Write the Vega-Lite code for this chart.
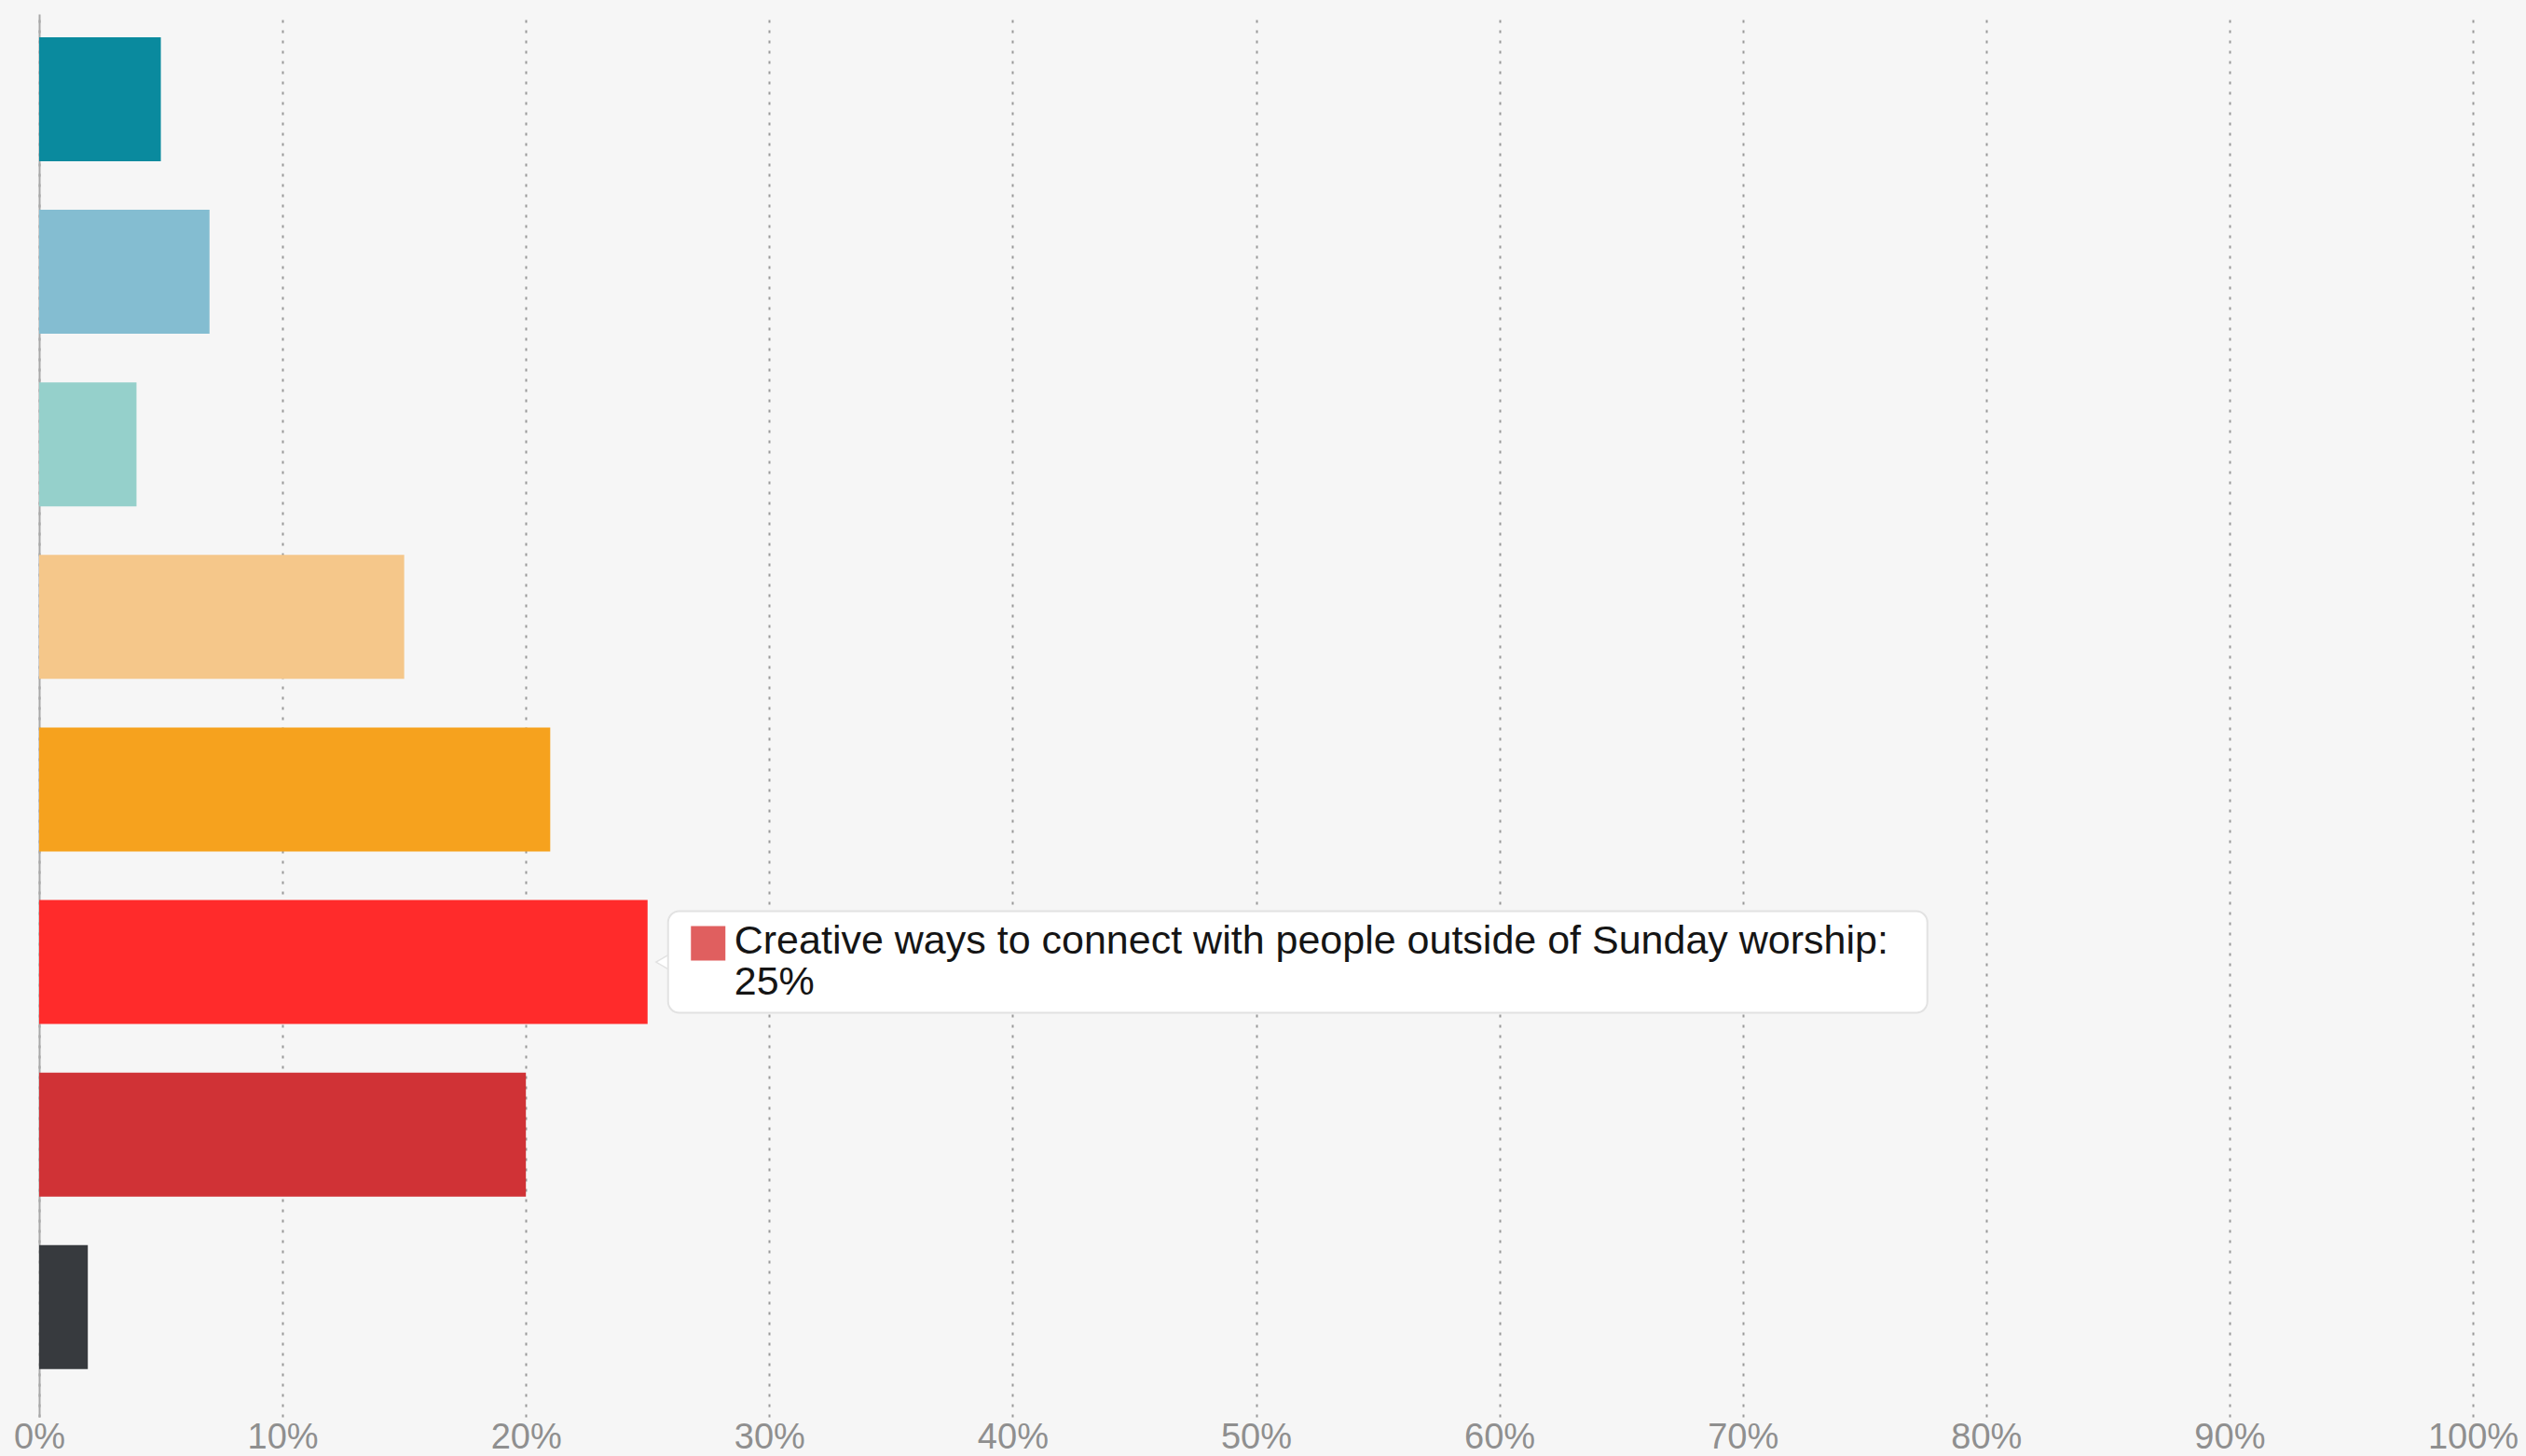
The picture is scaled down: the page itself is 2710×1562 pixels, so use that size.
{
  "$schema": "https://vega.github.io/schema/vega-lite/v6.json",
  "autosize": "none",
  "width": 2611,
  "height": 1505,
  "padding": {"left": 42, "top": 15, "right": 57, "bottom": 42},
  "background": "#f6f6f6",
  "config": {
    "view": {"stroke": null},
    "font": "Liberation Sans"
  },
  "datasets": {
    "bars": [
      {"option": "Option 1", "value": 5},
      {"option": "Option 2", "value": 7},
      {"option": "Option 3", "value": 4},
      {"option": "Option 4", "value": 15},
      {"option": "Option 5", "value": 21},
      {"option": "Creative ways to connect with people outside of Sunday worship", "value": 25},
      {"option": "Option 7", "value": 20},
      {"option": "Option 8", "value": 2}
    ],
    "tip": [
      {"option": "Creative ways to connect with people outside of Sunday worship", "value": 25, "tip": "Creative ways to connect with people outside of Sunday worship:\n25%"}
    ]
  },
  "encoding": {
    "y": {
      "field": "option",
      "type": "nominal",
      "sort": null,
      "scale": {
        "domain": ["Option 1", "Option 2", "Option 3", "Option 4", "Option 5", "Creative ways to connect with people outside of Sunday worship", "Option 7", "Option 8"],
        "paddingInner": 0.2815,
        "paddingOuter": 0.206,
        "align": 0.328
      },
      "axis": {
        "title": null,
        "labels": false,
        "ticks": false,
        "domain": true,
        "domainColor": "#a8a8a8",
        "domainWidth": 2,
        "grid": false
      }
    }
  },
  "layer": [
    {
      "data": {"name": "bars"},
      "mark": {"type": "bar"},
      "encoding": {
        "x": {
          "field": "value",
          "type": "quantitative",
          "scale": {"domain": [0, 100], "nice": false},
          "axis": {
            "title": null,
            "values": [0, 10, 20, 30, 40, 50, 60, 70, 80, 90, 100],
            "labelExpr": "datum.value + '%'",
            "labelFontSize": 38,
            "labelColor": "#8f8f8f",
            "labelFont": "Liberation Sans",
            "labelPadding": 3,
            "labelFlush": false,
            "domain": false,
            "ticks": false,
            "grid": true,
            "gridColor": "#999999",
            "gridDash": [3, 8],
            "gridWidth": 2
          }
        },
        "color": {
          "field": "option",
          "type": "nominal",
          "legend": null,
          "scale": {
            "domain": ["Option 1", "Option 2", "Option 3", "Option 4", "Option 5", "Creative ways to connect with people outside of Sunday worship", "Option 7", "Option 8"],
            "range": ["#0a8a9e", "#84bdd1", "#95d0cb", "#f5c78a", "#f6a21e", "#ff2b2b", "#d03236", "#373a3e"]
          }
        }
      }
    },
    {
      "data": {"name": "tip"},
      "mark": {"type": "point", "shape": "triangle-left", "filled": true, "fill": "#ffffff", "stroke": "#e2e2e2", "strokeWidth": 1.5, "size": 260, "xOffset": 16, "opacity": 1},
      "encoding": {
        "x": {"field": "value", "type": "quantitative"}
      }
    },
    {
      "data": {"name": "tip"},
      "mark": {"type": "bar", "fill": "#ffffff", "stroke": "#e2e2e2", "strokeWidth": 2, "cornerRadius": 12, "height": {"band": 0.82}, "xOffset": 22, "x2Offset": 1373},
      "encoding": {
        "x": {"field": "value", "type": "quantitative"},
        "x2": {"field": "value"}
      }
    },
    {
      "data": {"name": "tip"},
      "mark": {"type": "point", "shape": "square", "filled": true, "fill": "#e05f5f", "size": 1369, "xOffset": 65, "yOffset": -20, "opacity": 1},
      "encoding": {
        "x": {"field": "value", "type": "quantitative"}
      }
    },
    {
      "data": {"name": "tip"},
      "mark": {"type": "text", "align": "left", "baseline": "middle", "dx": 93, "dy": -22, "fontSize": 43, "lineHeight": 44, "lineBreak": "\n", "color": "#151515", "font": "Liberation Sans"},
      "encoding": {
        "x": {"field": "value", "type": "quantitative"},
        "text": {"field": "tip"}
      }
    }
  ]
}
